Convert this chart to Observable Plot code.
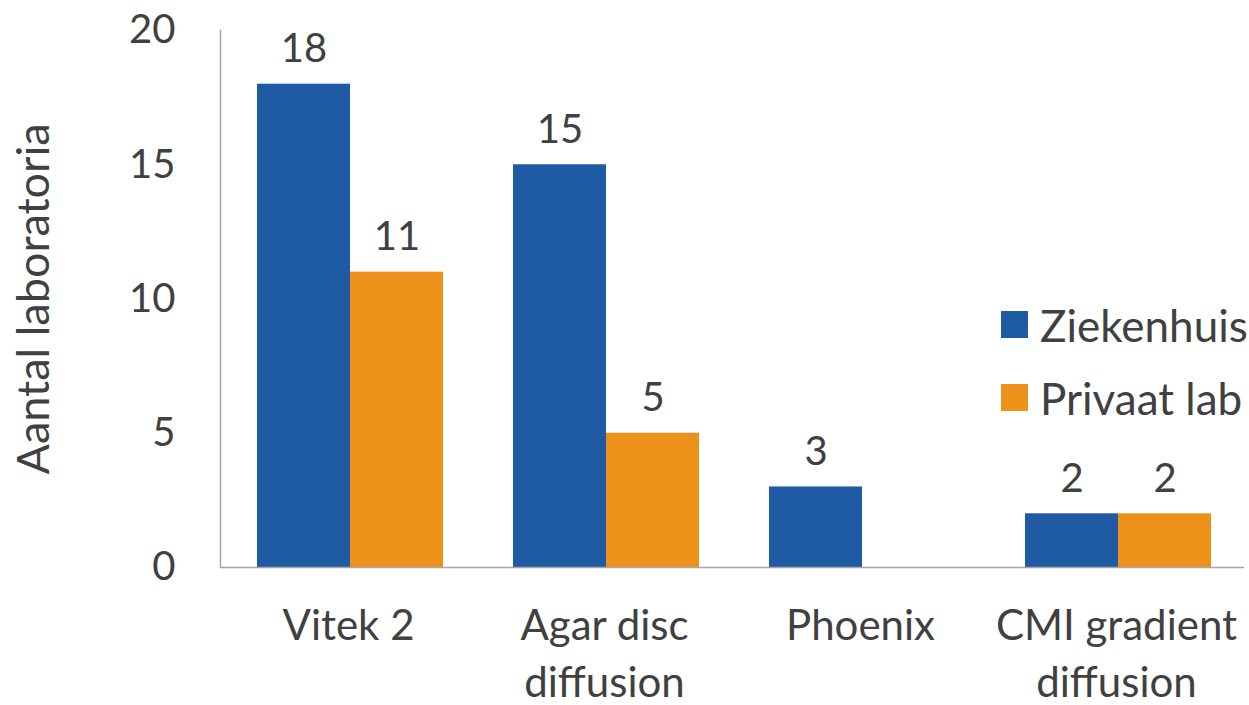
<!DOCTYPE html>
<html><head><meta charset="utf-8">
<script src="https://cdn.jsdelivr.net/npm/d3@7"></script>
<script src="https://cdn.jsdelivr.net/npm/@observablehq/plot@0.6"></script>
<style>
body{margin:0;background:#fff}
#chart{position:relative;width:1249px;height:705px;font-family:Lato, sans-serif}
.legend{position:absolute;left:1001px;top:288px}
.legend .row{display:flex;align-items:center;height:73px;font-size:44px;color:#404040;white-space:nowrap}
.legend .sw{width:27px;height:27px;margin-right:12px}
</style>
</head><body><div id="chart"></div>
<script>
const categories = ["Vitek 2", "Agar disc diffusion", "Phoenix", "CMI gradient diffusion"];
const categoryLabels = ["Vitek 2", "Agar disc\ndiffusion", "Phoenix", "CMI gradient\ndiffusion"];
const series = ["Ziekenhuis", "Privaat lab"];
const ziekenhuis = [18, 15, 3, 2];
const privaatLab = [11, 5, null, 2];
const colors = ["#1F5BA5", "#EC9119"];
const yTicks = [0, 5, 10, 15, 20];

const data = categories.flatMap((c, i) => [
  {category: c, series: series[0], value: ziekenhuis[i]},
  {category: c, series: series[1], value: privaatLab[i]}
]).filter(d => d.value != null);

const plot = Plot.plot({
  width: 1249, height: 705,
  marginLeft: 220, marginRight: 5, marginTop: 30, marginBottom: 138,
  style: {fontFamily: "Lato, sans-serif", fontSize: "40px", color: "#404040", background: "white"},
  fx: {domain: categories, padding: 0, label: null},
  x: {domain: series, paddingInner: 0, paddingOuter: 0.376, align: 0.53, axis: null},
  y: {domain: [0, 20]},
  color: {domain: series, range: colors},
  marks: [
    Plot.frame({anchor: "left", facetAnchor: "left", stroke: "#A6A6A6", strokeWidth: 1.5}),
    Plot.axisY({ticks: yTicks, tickSize: 0, tickPadding: 45, fill: "#404040", fontSize: 40, label: null}),
    Plot.axisY({ticks: [], tickSize: 0, fill: "#404040", fontSize: 45,
      label: "Aantal laboratoria", labelAnchor: "center", labelArrow: "none", labelOffset: 203}),
    Plot.axisFx({anchor: "bottom", tickSize: 0, tickPadding: 33, fontSize: 42, lineHeight: 1.34, fill: "#404040",
      tickFormat: d => categoryLabels[categories.indexOf(d)], label: null}),
    Plot.barY(data, {fx: "category", x: "series", y: "value", fill: "series"}),
    Plot.ruleY([0], {stroke: "#A6A6A6", strokeWidth: 1.5}),
    Plot.text(data, {fx: "category", x: "series", y: "value", text: "value", dy: -22, lineAnchor: "bottom",
      fontSize: 40, fill: "#404040"})
  ]
});
const chart = document.getElementById("chart");
chart.appendChild(plot);

const legend = document.createElement("div");
legend.className = "legend";
series.forEach((s, i) => {
  const row = document.createElement("div");
  row.className = "row";
  const sw = document.createElement("div");
  sw.className = "sw";
  sw.style.background = colors[i];
  const t = document.createElement("span");
  t.textContent = s;
  row.appendChild(sw); row.appendChild(t);
  legend.appendChild(row);
});
chart.appendChild(legend);
</script>
</body></html>
